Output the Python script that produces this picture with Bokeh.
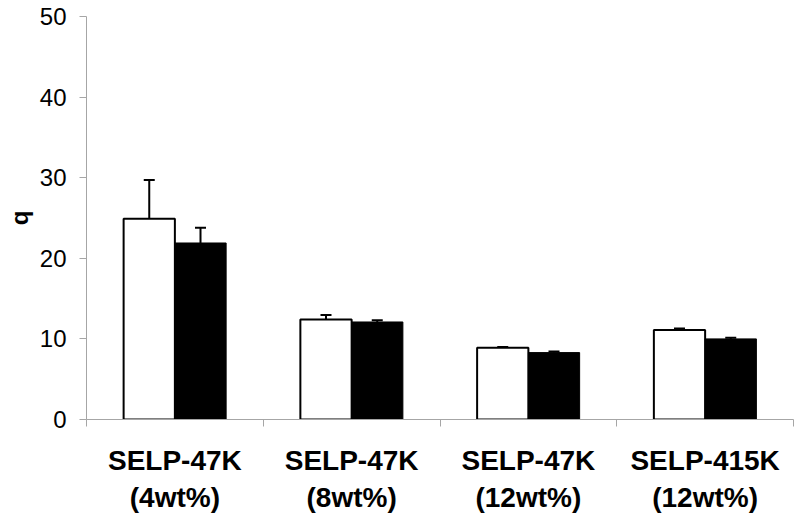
import numpy as np
from bokeh.plotting import figure
from bokeh.models import LinearAxis, FixedTicker, Range1d, Whisker, ColumnDataSource, TeeHead
from bokeh.embed import file_html
from bokeh.resources import INLINE

categories = ["SELP-47K\n(4wt%)", "SELP-47K\n(8wt%)", "SELP-47K\n(12wt%)", "SELP-415K\n(12wt%)"]
white_vals = [24.9, 12.4, 8.9, 11.1]
white_err = [4.8, 0.55, 0.1, 0.2]
black_vals = [21.9, 12.1, 8.3, 10.0]
black_err = [1.9, 0.2, 0.15, 0.15]
y_ticks = [0, 10, 20, 30, 40, 50]

n = len(categories)
centers = np.arange(n) + 0.5
bar_w = 0.29
off = bar_w / 2
AX = "#A6A6A6"
FONT = "Liberation Sans"

p = figure(width=798, height=515, output_backend="svg", toolbar_location=None,
           x_range=Range1d(0, n), y_range=Range1d(0, 50),
           min_border_left=86, min_border_right=5, min_border_top=16, min_border_bottom=94,
           x_axis_location=None)
p.xgrid.visible = False
p.ygrid.visible = False
p.outline_line_color = None
p.background_fill_color = "white"
p.border_fill_color = "white"

p.vbar(x=centers - off, top=white_vals, width=bar_w, fill_color="white",
       line_color="black", line_width=2)
p.vbar(x=centers + off, top=black_vals, width=bar_w, fill_color="black",
       line_color="black", line_width=1)

wsrc = ColumnDataSource(dict(x=list(centers - off), lower=white_vals,
                             upper=[v + e for v, e in zip(white_vals, white_err)]))
bsrc = ColumnDataSource(dict(x=list(centers + off), lower=black_vals,
                             upper=[v + e for v, e in zip(black_vals, black_err)]))
for src in (wsrc, bsrc):
    w = Whisker(source=src, base="x", lower="lower", upper="upper", dimension="height",
                lower_head=None, upper_head=TeeHead(size=11, line_width=2, line_color="black"),
                line_width=2, line_color="black", level="overlay")
    p.add_layout(w)

# y axis
ya = p.yaxis[0]
ya.ticker = FixedTicker(ticks=y_ticks)
ya.minor_tick_line_color = None
ya.major_tick_in = 0
ya.major_tick_out = 7
ya.axis_line_color = AX
ya.major_tick_line_color = AX
ya.major_label_text_font = FONT
ya.major_label_text_font_size = "24px"
ya.major_label_text_color = "black"
ya.major_label_standoff = 13
ya.axis_label = "q"
ya.axis_label_text_font = FONT
ya.axis_label_text_font_size = "24px"
ya.axis_label_text_font_style = "bold"
ya.axis_label_text_color = "black"
ya.axis_label_standoff = 4

# x axis line with category separator ticks
sep_ticks = list(range(n + 1))
xa = LinearAxis(ticker=FixedTicker(ticks=sep_ticks),
                major_label_overrides={t: "" for t in sep_ticks})
xa.major_label_text_font_size = "1px"
xa.major_label_standoff = 0
xa.minor_tick_line_color = None
xa.major_tick_in = 0
xa.major_tick_out = 7
xa.axis_line_color = AX
xa.major_tick_line_color = AX
p.add_layout(xa, "below")

# category labels
xl = LinearAxis(ticker=FixedTicker(ticks=list(centers)),
                major_label_overrides={float(c): lab for c, lab in zip(centers, categories)})
xl.axis_line_color = None
xl.major_tick_line_color = None
xl.minor_tick_line_color = None
xl.major_label_text_font = FONT
xl.major_label_text_font_size = "28px"
xl.major_label_text_font_style = "bold"
xl.major_label_text_color = "black"
xl.major_label_standoff = 12
p.add_layout(xl, "below")

open("out.html", "w").write(file_html(p, INLINE))
